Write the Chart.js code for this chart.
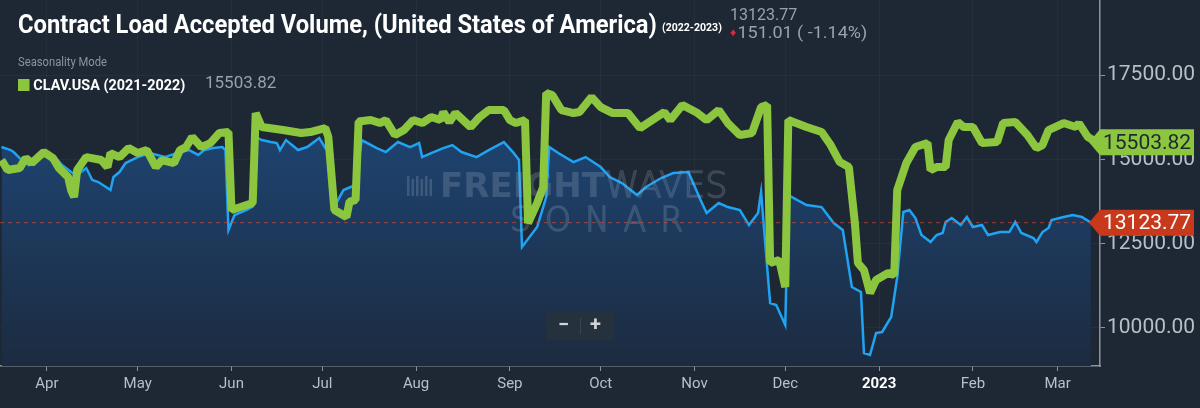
<!DOCTYPE html>
<html>
<head>
<meta charset="utf-8">
<script src="https://cdn.jsdelivr.net/npm/chart.js@4/dist/chart.umd.min.js"></script>
<style>
  html, body { margin: 0; padding: 0; background: #1e2834; }
  #wrap { position: relative; width: 1200px; height: 408px; overflow: hidden; }
  #chart { position: absolute; left: 0; top: 0; }
  .txt { position: absolute; white-space: nowrap; font-family: Roboto, "Liberation Sans", sans-serif; transform-origin: 0 0; line-height: 1; }
  #title { left: 18px; top: 10px; color: #fff; font: bold 25px Roboto, sans-serif; }
  #years { left: 662px; top: 22px; color: #fff; font: bold 10px Roboto, sans-serif; }
  #last { left: 730px; top: 7px; color: #9aa1aa; font-size: 16px; }
  #chg { left: 730px; top: 25px; color: #9aa1aa; font-size: 16px; }
  #chg span { color: #e8263a; font-size: 11px; vertical-align: 2px; margin-right: 1px; }
  #mode { left: 18px; top: 56px; color: #8c939c; font-size: 12px; }
  #legend { left: 18px; top: 76px; color: #fff; font: bold 15px Roboto, sans-serif; }
  #legend i { display: inline-block; width: 12px; height: 12px; background: #8cc63f; margin-right: 4px; vertical-align: -1px; }
  #legval { left: 205px; top: 74px; color: #9aa1aa; font-size: 17px; }
  #zoombox { position: absolute; left: 546px; top: 312px; width: 68px; height: 28px; background: #26313e; border-radius: 3px;
             color: #d0d4d9; font: bold 20px Roboto, sans-serif; }
  #zoombox span { position: absolute; top: 0px; }
  #zoombox b { position: absolute; left: 34px; top: 6px; width: 1px; height: 16px; background: #3a4552; }
</style>
</head>
<body>
<div id="wrap">
  <canvas id="chart" width="1200" height="408"></canvas>
  <div class="txt" id="title">Contract Load Accepted Volume, (United States of America)</div>
  <div class="txt" id="years">(2022-2023)</div>
  <div class="txt" id="last">13123.77</div>
  <div class="txt" id="chg"><span>&#9830;</span>151.01 ( -1.14%)</div>
  <div class="txt" id="mode">Seasonality Mode</div>
  <div class="txt" id="legend"><i></i>CLAV.USA (2021-2022)</div>
  <div class="txt" id="legval">15503.82</div>
  <div id="zoombox"><span style="left:12px">&minus;</span><b></b><span style="left:44px">+</span></div>
</div>
<script>
// x = days since 1 Apr 2022 (series 2021-2022 is shifted onto the same season)
const monthLabels = ["Apr", "May", "Jun", "Jul", "Aug", "Sep", "Oct", "Nov", "Dec", "2023", "Feb", "Mar"];
const monthDays = [0, 30, 61, 91, 122, 153, 183, 214, 244, 275, 306, 334];
const yTicks = [10000, 12500, 15000, 17500];

// CLAV.USA 2021-2022 (green)
const days2122 = [-15, -13, -9, -7, -5, -1, 2, 4, 7, 8, 9, 10, 13, 18, 20, 21, 24, 27, 30, 33, 36, 38, 42, 44, 46, 48, 51, 54, 57, 60,
  61, 64, 68, 69, 71, 78, 84, 87, 92, 93, 95, 99, 100, 102, 103, 107, 110, 112, 115, 118, 121, 124, 127, 130, 131, 133, 135, 140, 143, 146,
  151, 153, 155, 158, 159, 162, 164, 165, 167, 170, 174, 176, 180, 183, 187, 192, 196, 200, 204, 206, 210, 215, 218, 222, 225, 229, 233, 236, 238, 239,
  242, 244, 245, 251, 256, 259, 262, 265, 267, 268, 270, 272, 274, 278, 280, 281, 284, 287, 291, 292, 294, 297, 298, 301, 303, 306, 309, 314, 316, 320,
  324, 327, 329, 331, 336, 340, 341, 344, 347];
const clav2122 = [14980, 14683, 14742, 15039, 14891, 15217, 15039, 14742, 14476, 14090, 13883, 14683, 15068, 14980, 14772, 15187, 15068, 15335, 15187, 15276, 14772, 14980, 14891, 15276, 15365, 15661, 15365, 15483, 15780, 15809,
  13498, 13586, 13705, 16373, 15958, 15869, 15780, 15809, 15928, 15661, 13498, 13290, 13750, 13794, 16120, 16165, 16076, 16165, 15721, 15869, 16165, 16076, 16254, 16165, 16402, 16106, 16373, 15958, 16254, 16462,
  16462, 16165, 16076, 16165, 13112, 13705, 14179, 16965, 16906, 16462, 16373, 16402, 16847, 16550, 16373, 16373, 15928, 16165, 16402, 16165, 16610, 16373, 16165, 16462, 16076, 15721, 15780, 16550, 16610, 11927,
  12016, 11215, 16165, 15958, 15809, 15424, 14920, 14772, 13112, 11927, 11719, 11037, 11423, 11630, 11570, 14090, 14891, 15365, 15483, 14683, 14772, 14772, 15572, 16106, 15958, 15958, 15483, 15513, 16076, 16106,
  15721, 15335, 15424, 15869, 16076, 15958, 16076, 15661, 15503.82];

// CLAV.USA 2022-2023 (blue area)
const days2223 = [-15, -12, -11, -9, -6, -1, 3, 5, 8, 10, 13, 15, 17, 20, 21, 22, 24, 26, 30, 34, 39, 44, 47, 50, 52, 55, 58, 59, 60, 62,
  66, 68, 69, 71, 74, 76, 77, 79, 83, 86, 90, 92, 93, 95, 98, 102, 104, 109, 112, 116, 120, 123, 124, 127, 131, 134, 137, 142, 146, 151,
  154, 156, 157, 162, 165, 166, 169, 174, 178, 183, 186, 190, 195, 198, 203, 207, 212, 216, 218, 222, 225, 229, 232, 235, 236, 238, 239, 241, 244, 245,
  251, 256, 260, 263, 266, 269, 270, 272, 274, 276, 279, 281, 283, 285, 287, 289, 292, 294, 296, 297, 299, 302, 304, 306, 309, 311, 315, 318, 320, 322,
  326, 327, 329, 331, 332, 336, 339, 342, 345];
const clav2223 = [15365, 15276, 15217, 15039, 14830, 15130, 15039, 14830, 14624, 14535, 14742, 14387, 14328, 14150, 14090, 14476, 14624, 14891, 15068, 15187, 15068, 15217, 15276, 15130, 15276, 15335, 15365, 15276, 12905, 13350,
  13500, 13600, 15661, 15572, 15513, 15483, 15276, 15572, 15276, 15365, 15632, 15335, 15500, 13600, 14090, 14239, 15572, 15335, 15217, 15513, 15365, 15483, 15068, 15187, 15335, 15424, 15217, 15068, 15276, 15513,
  15217, 14980, 12401, 12994, 13883, 15365, 15187, 14920, 15068, 14772, 14476, 14298, 13942, 14179, 14446, 14594, 14624, 13794, 13409, 13705, 13586, 13498, 13053, 13409, 14031, 11808, 10741, 10682, 10089, 13942,
  13646, 13586, 13112, 12905, 11215, 11067, 9259, 9200, 9852, 9881, 10326, 11512, 13438, 13498, 13260, 12757, 12549, 12757, 12816, 13142, 13260, 13053, 13290, 12994, 13053, 12757, 12845, 12845, 13142, 12816,
  12668, 12549, 12845, 12964, 13201, 13290, 13350, 13290, 13123.77];

const green = "#8cc63f";
const blue = "#1fa3f2";
const axisGray = "#8b949e";
const labelGray = "#b9bfc6";

// squeeze header texts to the condensed widths of the original
function fitWidth(id, px) {
  const el = document.getElementById(id);
  el.style.transform = "scaleX(" + (px / el.offsetWidth) + ")";
}
fitWidth("title", 639);
fitWidth("years", 60);
fitWidth("legend", 167);
fitWidth("mode", 89);
fitWidth("chg", 137);

const pts2122 = days2122.map((d, i) => ({ x: d, y: clav2122[i] }));
const pts2223 = days2223.map((d, i) => ({ x: d, y: clav2223[i] }));

function areaFill(context) {
  const { ctx, chartArea } = context.chart;
  if (!chartArea) return "#1d3a5e";
  const g = ctx.createLinearGradient(0, chartArea.top, 0, chartArea.bottom);
  g.addColorStop(0, "#22538c");
  g.addColorStop(0.4, "#1e426d");
  g.addColorStop(1, "#1c2b40");
  return g;
}

/* watermark + dashed last-value line, drawn right after the blue area */
const overlayPlugin = {
  id: "overlay",
  afterDatasetDraw(chart, args) {
    if (args.index !== 1) return;
    const { ctx, chartArea, scales } = chart;
    ctx.save();
    // watermark
    ctx.fillStyle = "rgba(160,175,195,0.25)";
    for (let i = 0; i < 6; i++) {
      ctx.fillRect(407 + i * 4.5, 176 + (i % 2) * 3, 2.5, 20 - (i % 2) * 3);
    }
    ctx.textBaseline = "middle";
    ctx.font = "900 34px 'DejaVu Sans', sans-serif";
    ctx.fillText("FREIGHT", 440, 188);
    const w = ctx.measureText("FREIGHT").width;
    ctx.font = "200 35px 'DejaVu Sans', sans-serif";
    ctx.strokeStyle = "rgba(160,175,195,0.25)";
    ctx.lineWidth = 1.5;
    ctx.strokeText("WAVES", 440 + w, 188);
    ctx.font = "200 33px 'DejaVu Sans', sans-serif";
    ctx.letterSpacing = "14px";
    ctx.strokeText("SONAR", 510, 222);
    ctx.letterSpacing = "0px";
    // dashed line at last value
    const yv = scales.y.getPixelForValue(clav2223[clav2223.length - 1]);
    ctx.strokeStyle = "rgba(214,70,50,0.7)";
    ctx.lineWidth = 1;
    ctx.setLineDash([4, 4]);
    ctx.beginPath();
    ctx.moveTo(chartArea.left, yv);
    ctx.lineTo(chartArea.right, yv);
    ctx.stroke();
    ctx.restore();
  },
  afterDraw(chart) {
    const { ctx, chartArea, scales } = chart;
    const tag = (value, fill, textColor) => {
      const y = scales.y.getPixelForValue(value);
      const x0 = chartArea.right - 11, x1 = chartArea.right, x2 = 1194;
      ctx.fillStyle = fill;
      ctx.beginPath();
      ctx.moveTo(x0, y);
      ctx.lineTo(x1, y - 13);
      ctx.lineTo(x2, y - 13);
      ctx.lineTo(x2, y + 13);
      ctx.lineTo(x1, y + 13);
      ctx.closePath();
      ctx.fill();
      ctx.fillStyle = textColor;
      ctx.font = "21px Roboto, sans-serif";
      ctx.textBaseline = "middle";
      ctx.textAlign = "left";
      ctx.fillText(value.toFixed(2), x1 + 3, y + 1);
    };
    ctx.save();
    tag(clav2122[clav2122.length - 1], green, "#1e2834");
    tag(clav2223[clav2223.length - 1], "#c8381b", "#ffffff");
    ctx.restore();
  }
};

new Chart(document.getElementById("chart"), {
  type: "line",
  data: {
    datasets: [
      {
        label: "CLAV.USA (2021-2022)",
        data: pts2122,
        borderColor: green,
        borderWidth: 8,
        borderJoinStyle: "bevel",
        pointRadius: 0,
        tension: 0,
        fill: false,
        order: 0
      },
      {
        label: "CLAV.USA (2022-2023)",
        data: pts2223,
        borderColor: blue,
        borderWidth: 2.5,
        pointRadius: 0,
        tension: 0,
        fill: "start",
        backgroundColor: areaFill,
        order: 1
      }
    ]
  },
  options: {
    responsive: false,
    animation: false,
    layout: { padding: 0 },
    plugins: { legend: { display: false }, tooltip: { enabled: false } },
    scales: {
      x: {
        type: "linear",
        min: -15.5,
        max: 348,
        afterBuildTicks: (s) => { s.ticks = monthDays.map(v => ({ value: v })); },
        afterFit: (s) => { s.height = 42; s.paddingLeft = 0; s.paddingRight = 0; },
        ticks: {
          autoSkip: false,
          maxRotation: 0,
          padding: 4,
          callback: (v, i) => monthLabels[i],
          color: (c) => (c.tick && c.tick.value === 275 ? "#ffffff" : labelGray),
          font: (c) => ({ family: "Roboto, sans-serif", size: 15, weight: c.tick && c.tick.value === 275 ? "bold" : "normal" })
        },
        grid: { color: "rgba(255,255,255,0.035)", tickColor: axisGray, tickLength: 5 },
        border: { color: axisGray, width: 1.5 }
      },
      y: {
        position: "right",
        min: 8873,
        max: 19725,
        afterBuildTicks: (s) => { s.ticks = yTicks.map(v => ({ value: v })); },
        afterFit: (s) => { s.width = 100; s.paddingTop = 0; s.paddingBottom = 0; },
        ticks: {
          padding: 2,
          color: labelGray,
          font: { family: "Roboto, sans-serif", size: 21 },
          callback: (v) => v.toFixed(2)
        },
        grid: { color: "rgba(255,255,255,0.035)", tickColor: axisGray, tickLength: 5 },
        border: { color: axisGray, width: 1.5 }
      }
    }
  },
  plugins: [overlayPlugin]
});
</script>
</body>
</html>
